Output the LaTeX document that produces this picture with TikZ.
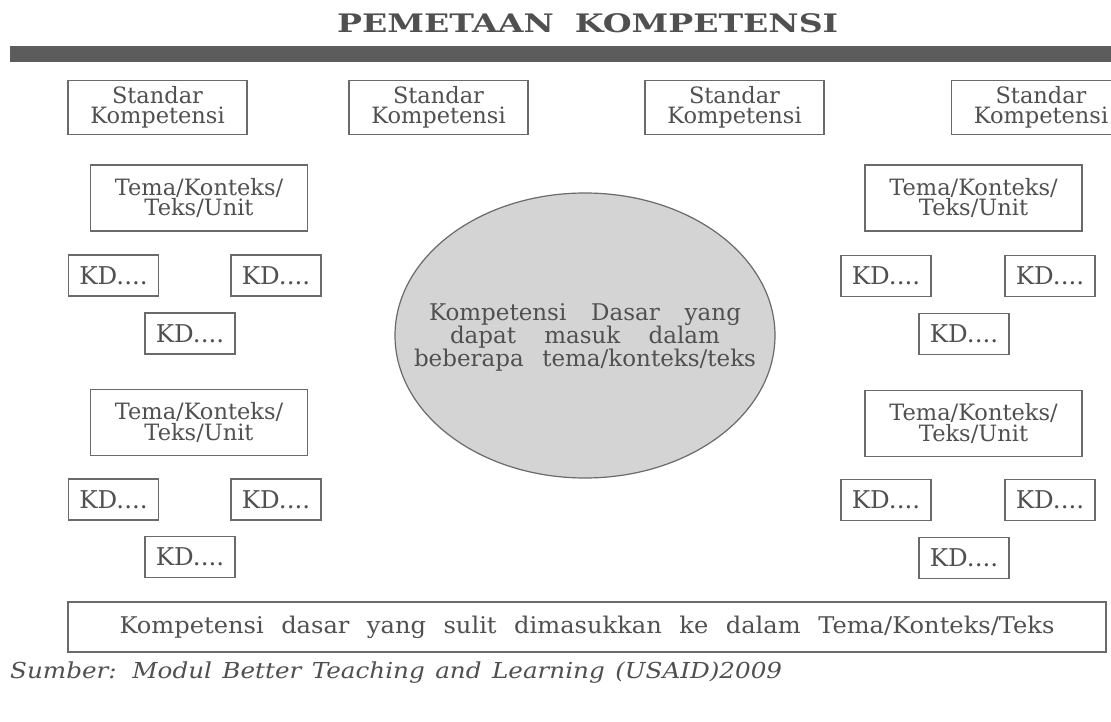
\documentclass[tikz,border=0pt]{standalone}
\usepackage{fontspec}
\usetikzlibrary{shapes.geometric}
\newfontfamily\boxfont{DejaVu Serif}
\newfontfamily\widefont[FakeStretch=1.05]{DejaVu Serif}
\newfontfamily\srcfont[FakeStretch=1.12]{DejaVu Serif}
\newfontfamily\titlefont[FakeStretch=1.3]{DejaVu Serif}
\definecolor{txt}{HTML}{505050}
\definecolor{boxc}{HTML}{6A6A6A}
\definecolor{barc}{HTML}{5C5C5C}
\definecolor{ellc}{HTML}{D4D4D4}
\tikzset{
  base/.style={draw=boxc, line width=1.6pt, inner sep=0pt, align=center, text=txt},
  skbox/.style={base, minimum width=179pt, minimum height=54pt, font={\boxfont\fontsize{22.5}{20.5}\selectfont}},
  temabox/.style={base, minimum width=217pt, minimum height=66pt, font={\boxfont\fontsize{22.5}{20.5}\selectfont}},
  kdbox/.style={base, minimum width=90pt, minimum height=41pt, font={\boxfont\fontsize{24.5}{20}\selectfont}},
}
\begin{document}
\begin{tikzpicture}[x=1pt, y=-1pt]
\useasboundingbox (0,0) rectangle (1111,722);
\clip (0,0) rectangle (1111,722);
\fill[white] (0,0) rectangle (1111,722);
% title and bar
\node[anchor=base west, inner sep=0pt, text=txt] (title) at (337,33)
  {\makebox[501pt][s]{\titlefont\bfseries\fontsize{25.5}{25}\selectfont PEMETAAN KOMPETENSI}};
\fill[barc] (10,46) rectangle (1111,62);
% standar kompetensi
\node[skbox] (sk1) at (157.5,107.5) {Standar\\Kompetensi};
\node[skbox] (sk2) at (438.5,107.5) {Standar\\Kompetensi};
\node[skbox] (sk3) at (734.5,107.5) {Standar\\Kompetensi};
\node[skbox] (sk4) at (1041,107.5) {Standar\\Kompetensi};
% left column
\node[temabox] (tl1) at (199,198) {Tema/Konteks/\\Teks/Unit};
\node[kdbox] (kl1a) at (113.5,275.5) {KD....};
\node[kdbox] (kl1b) at (276,275.5) {KD....};
\node[kdbox] (kl1c) at (190,333.5) {KD....};
\node[temabox] (tl2) at (199,422.5) {Tema/Konteks/\\Teks/Unit};
\node[kdbox] (kl2a) at (113.5,499.5) {KD....};
\node[kdbox] (kl2b) at (276,499.5) {KD....};
\node[kdbox] (kl2c) at (190,557) {KD....};
% right column
\node[temabox] (tr1) at (973.5,198) {Tema/Konteks/\\Teks/Unit};
\node[kdbox] (kr1a) at (886,276) {KD....};
\node[kdbox] (kr1b) at (1050,276) {KD....};
\node[kdbox] (kr1c) at (964,334) {KD....};
\node[temabox] (tr2) at (973.5,423.5) {Tema/Konteks/\\Teks/Unit};
\node[kdbox] (kr2a) at (886,500) {KD....};
\node[kdbox] (kr2b) at (1050,500) {KD....};
\node[kdbox] (kr2c) at (964,558) {KD....};
% central ellipse
\node[ellipse, draw=boxc, line width=1.2pt, fill=ellc, minimum width=380pt, minimum height=285pt,
  inner sep=0pt] (kdc) at (585,335.5) {};
\node[inner sep=0pt, align=center, text=txt, font={\boxfont\fontsize{23}{20}\selectfont}] (kdctext) at ([yshift=-2pt]kdc.center)
  {\makebox[312pt][s]{Kompetensi Dasar yang}\\
   \makebox[270pt][s]{dapat masuk dalam}\\
   \makebox[342pt][s]{beberapa tema/konteks/teks}};
% bottom box
\node[base, minimum width=1038pt, minimum height=50pt, font={\widefont\fontsize{23}{22}\selectfont}] (kds) at (587,627)
  {\makebox[935pt][s]{Kompetensi dasar yang sulit dimasukkan ke dalam Tema/Konteks/Teks}};
% source
\node[anchor=base west, inner sep=0pt, text=txt] (src) at (10,678)
  {\makebox[772pt][s]{\srcfont\itshape\fontsize{22}{22}\selectfont Sumber: Modul Better Teaching and Learning (USAID)2009}};
\end{tikzpicture}
\end{document}
